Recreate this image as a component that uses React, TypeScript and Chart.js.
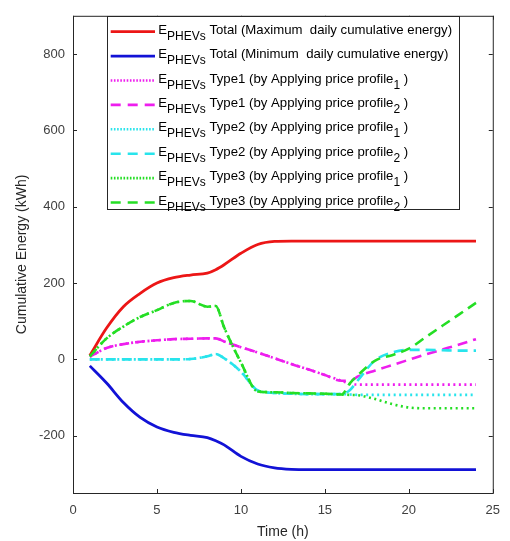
import React, { useEffect, useRef } from 'react';
import { Chart, registerables } from 'chart.js';

Chart.register(...registerables);

// ---------- data ----------
const timeHours = [1, 2, 3, 4, 5, 6, 7, 8, 8.5, 9, 10, 11, 12, 13, 14, 15, 16, 16.5, 17, 18, 19, 20, 21, 22, 23, 24];

const totalMax = [10, 82, 138, 173, 200, 214, 221, 226, 235, 248, 278, 301, 309, 310, 310, 310, 310, 310, 310, 310, 310, 310, 310, 310, 310, 310];
const totalMin = [-17, -62, -113, -152, -177, -191, -199, -205, -213, -224, -254, -274, -284, -288, -289, -289, -289, -289, -289, -289, -289, -289, -289, -289, -289, -289];

const type1Profile1 = [7, 30, 40, 46, 50, 53, 54, 55, 55, 47, 32, 18, 3, -12, -26, -41, -56, -64, -66, -66, -66, -66, -66, -66, -66, -66];
const type1Profile2 = [7, 30, 40, 46, 50, 53, 54, 55, 55, 47, 32, 18, 3, -12, -26, -41, -56, -56, -44, -29, -15, -1, 13, 26, 39, 53];

const type2Profile1 = [0, 0, 0, 0, 0, 0, 1, 8, 14, 3, -32, -81, -88, -90, -91, -91, -91, -92, -93, -93, -93, -93, -93, -93, -93, -93];
const type2Profile2 = [0, 0, 0, 0, 0, 0, 1, 8, 14, 3, -32, -81, -88, -90, -91, -91, -91, -80, -53, -2, 18, 25, 25, 24, 23, 23];

const type3Profile1 = [8, 55, 86, 111, 129, 148, 153, 138, 140, 84, -8, -84, -86, -88, -89, -90, -92, -93, -94, -104, -117, -126, -128, -128, -128, -128];
const type3Profile2 = [8, 55, 86, 111, 129, 148, 153, 138, 140, 84, -8, -84, -86, -88, -89, -90, -92, -62, -40, -3, 11, 28, 58, 88, 118, 148];

const xTickValues = [0, 5, 10, 15, 20, 25];
const yTickValues = [-200, 0, 200, 400, 600, 800];

const legendMain = [
  'Total (Maximum  daily cumulative energy)',
  'Total (Minimum  daily cumulative energy)',
  'Type1 (by Applying price profile',
  'Type1 (by Applying price profile',
  'Type2 (by Applying price profile',
  'Type2 (by Applying price profile',
  'Type3 (by Applying price profile',
  'Type3 (by Applying price profile',
];
const legendProfileSub = ['', '', '1', '2', '1', '2', '1', '2'];

// ---------- styles ----------
const RED = 'rgb(236,22,22)';
const BLUE = 'rgb(18,18,214)';
const MAGENTA = 'rgb(238,30,238)';
const CYAN = 'rgb(40,228,236)';
const GREEN = 'rgb(36,222,36)';

const DOT = [2, 3.5];
const DASH = [10, 6];

const FONT = '"Liberation Sans", Arial, Helvetica, sans-serif';

const seriesList = [
  { values: totalMax, color: RED, dash: [] as number[], width: 2.8 },
  { values: totalMin, color: BLUE, dash: [] as number[], width: 2.8 },
  { values: type1Profile1, color: MAGENTA, dash: DOT, width: 2.6 },
  { values: type1Profile2, color: MAGENTA, dash: DASH, width: 2.6 },
  { values: type2Profile1, color: CYAN, dash: DOT, width: 2.6 },
  { values: type2Profile2, color: CYAN, dash: DASH, width: 2.6 },
  { values: type3Profile1, color: GREEN, dash: DOT, width: 2.6 },
  { values: type3Profile2, color: GREEN, dash: DASH, width: 2.6 },
];

const boxPlugin = {
  id: 'matlabBox',
  afterDraw(chart: any) {
    const { ctx, chartArea: a, scales } = chart;
    ctx.save();
    ctx.strokeStyle = '#262626';
    ctx.lineWidth = 1;
    ctx.setLineDash([]);
    ctx.strokeRect(a.left + 0.5, a.top + 0.5, a.right - a.left, a.bottom - a.top);
    const tl = 4;
    ctx.beginPath();
    for (const v of xTickValues) {
      const x = Math.round(scales.x.getPixelForValue(v)) + 0.5;
      ctx.moveTo(x, a.bottom);
      ctx.lineTo(x, a.bottom - tl);
      ctx.moveTo(x, a.top);
      ctx.lineTo(x, a.top + tl);
    }
    for (const v of yTickValues) {
      const y = Math.round(scales.y.getPixelForValue(v)) + 0.5;
      ctx.moveTo(a.left, y);
      ctx.lineTo(a.left + tl, y);
      ctx.moveTo(a.right, y);
      ctx.lineTo(a.right - tl, y);
    }
    ctx.stroke();

    // legend
    const lx0 = 107, lx1 = 459, ly0 = 16, ly1 = 209;
    ctx.fillStyle = '#ffffff';
    ctx.fillRect(lx0, ly0, lx1 - lx0, ly1 - ly0);
    ctx.strokeStyle = '#262626';
    ctx.lineWidth = 1;
    ctx.strokeRect(lx0 + 0.5, ly0 + 0.5, lx1 - lx0, ly1 - ly0);

    const mainFont = `13.2px ${FONT}`;
    const subFont = `12px ${FONT}`;
    seriesList.forEach((s, i) => {
      const y = 31.7 + i * 24.4;
      ctx.save();
      ctx.strokeStyle = s.color;
      ctx.lineWidth = s.width;
      ctx.lineCap = 'butt';
      ctx.setLineDash(s.dash === DOT ? [1.6, 1.6] : s.dash === DASH ? [10, 7] : []);
      ctx.beginPath();
      ctx.moveTo(110.7, y);
      ctx.lineTo(155, y);
      ctx.stroke();
      ctx.restore();

      ctx.fillStyle = '#000000';
      ctx.textAlign = 'left';
      ctx.textBaseline = 'alphabetic';
      let x = 158.3;
      ctx.font = mainFont;
      ctx.fillText('E', x, y + 2);
      x += ctx.measureText('E').width;
      ctx.font = subFont;
      ctx.fillText('PHEVs', x, y + 8);
      x += ctx.measureText('PHEVs').width;
      ctx.font = mainFont;
      const txt = ' ' + legendMain[i];
      ctx.fillText(txt, x, y + 2);
      x += ctx.measureText(txt).width;
      if (legendProfileSub[i]) {
        ctx.font = subFont;
        ctx.fillText(legendProfileSub[i], x, y + 8);
        x += ctx.measureText(legendProfileSub[i]).width;
        ctx.font = mainFont;
        ctx.fillText(' )', x, y + 2);
      }
    });
    ctx.restore();
  },
};

export default function App() {
  const canvasRef = useRef<HTMLCanvasElement | null>(null);

  useEffect(() => {
    document.body.style.margin = '0';
    document.body.style.overflow = 'hidden';
    const canvas = canvasRef.current;
    if (!canvas) return;

    const datasets = seriesList.map((s, i) => ({
      label: legendMain[i],
      data: timeHours.map((t, k) => ({ x: t, y: s.values[k] })),
      borderColor: s.color,
      backgroundColor: s.color,
      borderWidth: s.width,
      borderDash: s.dash,
      borderCapStyle: 'butt' as const,
      pointRadius: 0,
      fill: false,
      cubicInterpolationMode: 'monotone' as const,
      order: seriesList.length - i,
    }));

    const chart = new Chart(canvas, {
      type: 'line',
      data: { datasets },
      plugins: [boxPlugin],
      options: {
        animation: false,
        responsive: false,
        maintainAspectRatio: false,
        layout: { padding: { top: 7, right: 15, left: 0, bottom: 0 } },
        plugins: { legend: { display: false }, tooltip: { enabled: false } },
        scales: {
          x: {
            type: 'linear',
            min: 0,
            max: 25,
            grid: { display: false, drawTicks: false },
            border: { display: false },
            afterBuildTicks: (scale: any) => {
              scale.ticks = xTickValues.map((value) => ({ value }));
            },
            afterFit: (scale: any) => {
              scale.height = 48;
            },
            ticks: {
              padding: 10,
              color: '#404040',
              font: { family: FONT, size: 13 },
              maxRotation: 0,
              autoSkip: false,
            },
            title: {
              display: true,
              text: 'Time (h)',
              color: '#262626',
              font: { family: FONT, size: 14 },
              padding: { top: 0, bottom: 0 },
            },
          },
          y: {
            type: 'linear',
            min: -350,
            max: 900,
            grid: { display: false, drawTicks: false },
            border: { display: false },
            afterBuildTicks: (scale: any) => {
              scale.ticks = yTickValues.map((value) => ({ value }));
            },
            afterFit: (scale: any) => {
              scale.width = 73;
            },
            ticks: {
              padding: 8,
              color: '#404040',
              font: { family: FONT, size: 13 },
              autoSkip: false,
            },
            title: {
              display: true,
              text: 'Cumulative Energy (kWh)',
              color: '#262626',
              font: { family: FONT, size: 14 },
              padding: { top: 14, bottom: 0 },
            },
          },
        },
      },
    });
    return () => chart.destroy();
  }, []);

  return (
    <div style={{ width: 510, height: 541 }}>
      <canvas ref={canvasRef} width={510} height={541} />
    </div>
  );
}
